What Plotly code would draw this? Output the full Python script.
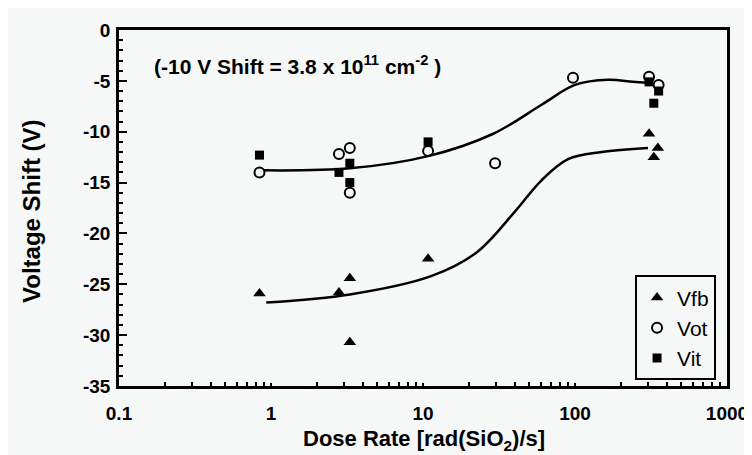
import plotly.graph_objects as go

# ---- data ----
vfb_x = [0.84, 2.8, 3.3, 3.3, 10.8, 307, 351, 330]
vfb_y = [-25.9, -25.8, -24.4, -30.7, -22.5, -10.2, -11.6, -12.5]

vot_x = [0.84, 2.8, 3.3, 3.3, 10.8, 29.8, 97, 307, 355]
vot_y = [-14.0, -12.2, -11.6, -16.0, -11.9, -13.1, -4.7, -4.6, -5.4]

vit_x = [0.84, 2.8, 3.3, 3.3, 10.8, 307, 355, 330]
vit_y = [-12.3, -14.0, -13.1, -15.0, -11.0, -5.1, -6.0, -7.2]

# smooth guide curves
fit_ot_x = [0.9, 3.3, 10.8, 29, 61, 100, 166, 240, 302]
fit_ot_y = [-13.8, -13.6, -12.4, -10.2, -7.3, -5.4, -4.9, -5.1, -5.2]

fit_fb_x = [0.93, 3.3, 11.3, 22.4, 40, 60, 90, 150, 302]
fit_fb_y = [-26.8, -26.0, -24.2, -21.9, -17.9, -14.8, -12.7, -12.0, -11.6]

x_ticks = [0.1, 1, 10, 100, 1000]
x_tick_text = ["0.1", "1", "10", "100", "1000"]
y_ticks = [0, -5, -10, -15, -20, -25, -30, -35]
y_tick_text = ["0", "-5", "-10", "-15", "-20", "-25", "-30", "-35"]
x_minor = [k * 10 ** d for d in (-1, 0, 1, 2) for k in range(2, 10)]

BG = "#f6f8f8"
FONT = "Arial, Liberation Sans, sans-serif"

fig = go.Figure()

fig.add_trace(go.Scatter(x=fit_ot_x, y=fit_ot_y, mode="lines",
                         line=dict(color="black", width=2.5, shape="spline", smoothing=1.0),
                         showlegend=False, hoverinfo="skip"))
fig.add_trace(go.Scatter(x=fit_fb_x, y=fit_fb_y, mode="lines",
                         line=dict(color="black", width=2.5, shape="spline", smoothing=1.0),
                         showlegend=False, hoverinfo="skip"))

fig.add_trace(go.Scatter(x=vfb_x, y=vfb_y, mode="markers", name="Vfb", legendgroup="a",
                         marker=dict(symbol="triangle-up", size=11, color="black")))
fig.add_trace(go.Scatter(x=vot_x, y=vot_y, mode="markers", name="Vot", legendgroup="b",
                         marker=dict(symbol="circle-open", size=10, color="black",
                                     line=dict(width=2, color="black"))))
fig.add_trace(go.Scatter(x=vit_x, y=vit_y, mode="markers", name="Vit", legendgroup="c",
                         marker=dict(symbol="square", size=9, color="black")))

fig.update_layout(
    width=752, height=455,
    margin=dict(l=111, r=25, t=18, b=77),
    paper_bgcolor=BG, plot_bgcolor=BG,
    font=dict(family=FONT, color="black"),
    legend=dict(x=0.982, y=0.311, xanchor="right", yanchor="top",
                bordercolor="black", borderwidth=2, bgcolor=BG,
                itemwidth=30,
                font=dict(size=21, family=FONT), tracegroupgap=0),
    xaxis=dict(type="log", range=[-1, 3], tickvals=x_ticks, ticktext=x_tick_text,
               ticks="inside", ticklen=3, tickwidth=1.5, tickcolor="black",
               tickfont=dict(size=19, weight="bold", family=FONT),
               ticklabelstandoff=8,
               minor=dict(tickvals=x_minor, ticks="inside", ticklen=4, tickwidth=1.5,
                          tickcolor="black", showgrid=False),
               showline=True, linecolor="black", linewidth=2.5, mirror=True,
               showgrid=False, zeroline=False),
    yaxis=dict(range=[-35, 0], tickvals=y_ticks, ticktext=y_tick_text,
               ticks="inside", ticklen=8, tickwidth=1.5, tickcolor="black",
               tickfont=dict(size=19, weight="bold", family=FONT),
               ticklabelstandoff=2,
               minor=dict(dtick=1, ticks="inside", ticklen=4, tickwidth=1.5,
                          tickcolor="black", showgrid=False),
               showline=True, linecolor="black", linewidth=2.5, mirror=True,
               showgrid=False, zeroline=False),
    annotations=[
        dict(text="<b>(-10 V Shift = 3.8 x 10<sup>11</sup> cm<sup>-2</sup> )</b>",
             xref="paper", yref="paper", x=0.055, y=0.903, xanchor="left", yanchor="middle",
             showarrow=False, font=dict(size=21, family=FONT)),
        dict(text="<b>Dose Rate [rad(SiO<sub>2</sub>)/s]</b>",
             xref="paper", yref="paper", x=0.5016, y=-0.152, xanchor="center", yanchor="middle",
             showarrow=False, font=dict(size=22, family=FONT)),
        dict(text="<b>Voltage Shift (V)</b>", textangle=-90,
             xref="paper", yref="paper", x=-0.1429, y=0.492, xanchor="center", yanchor="middle",
             showarrow=False, font=dict(size=24, family=FONT)),
    ],
)

fig.write_html("out.html")
